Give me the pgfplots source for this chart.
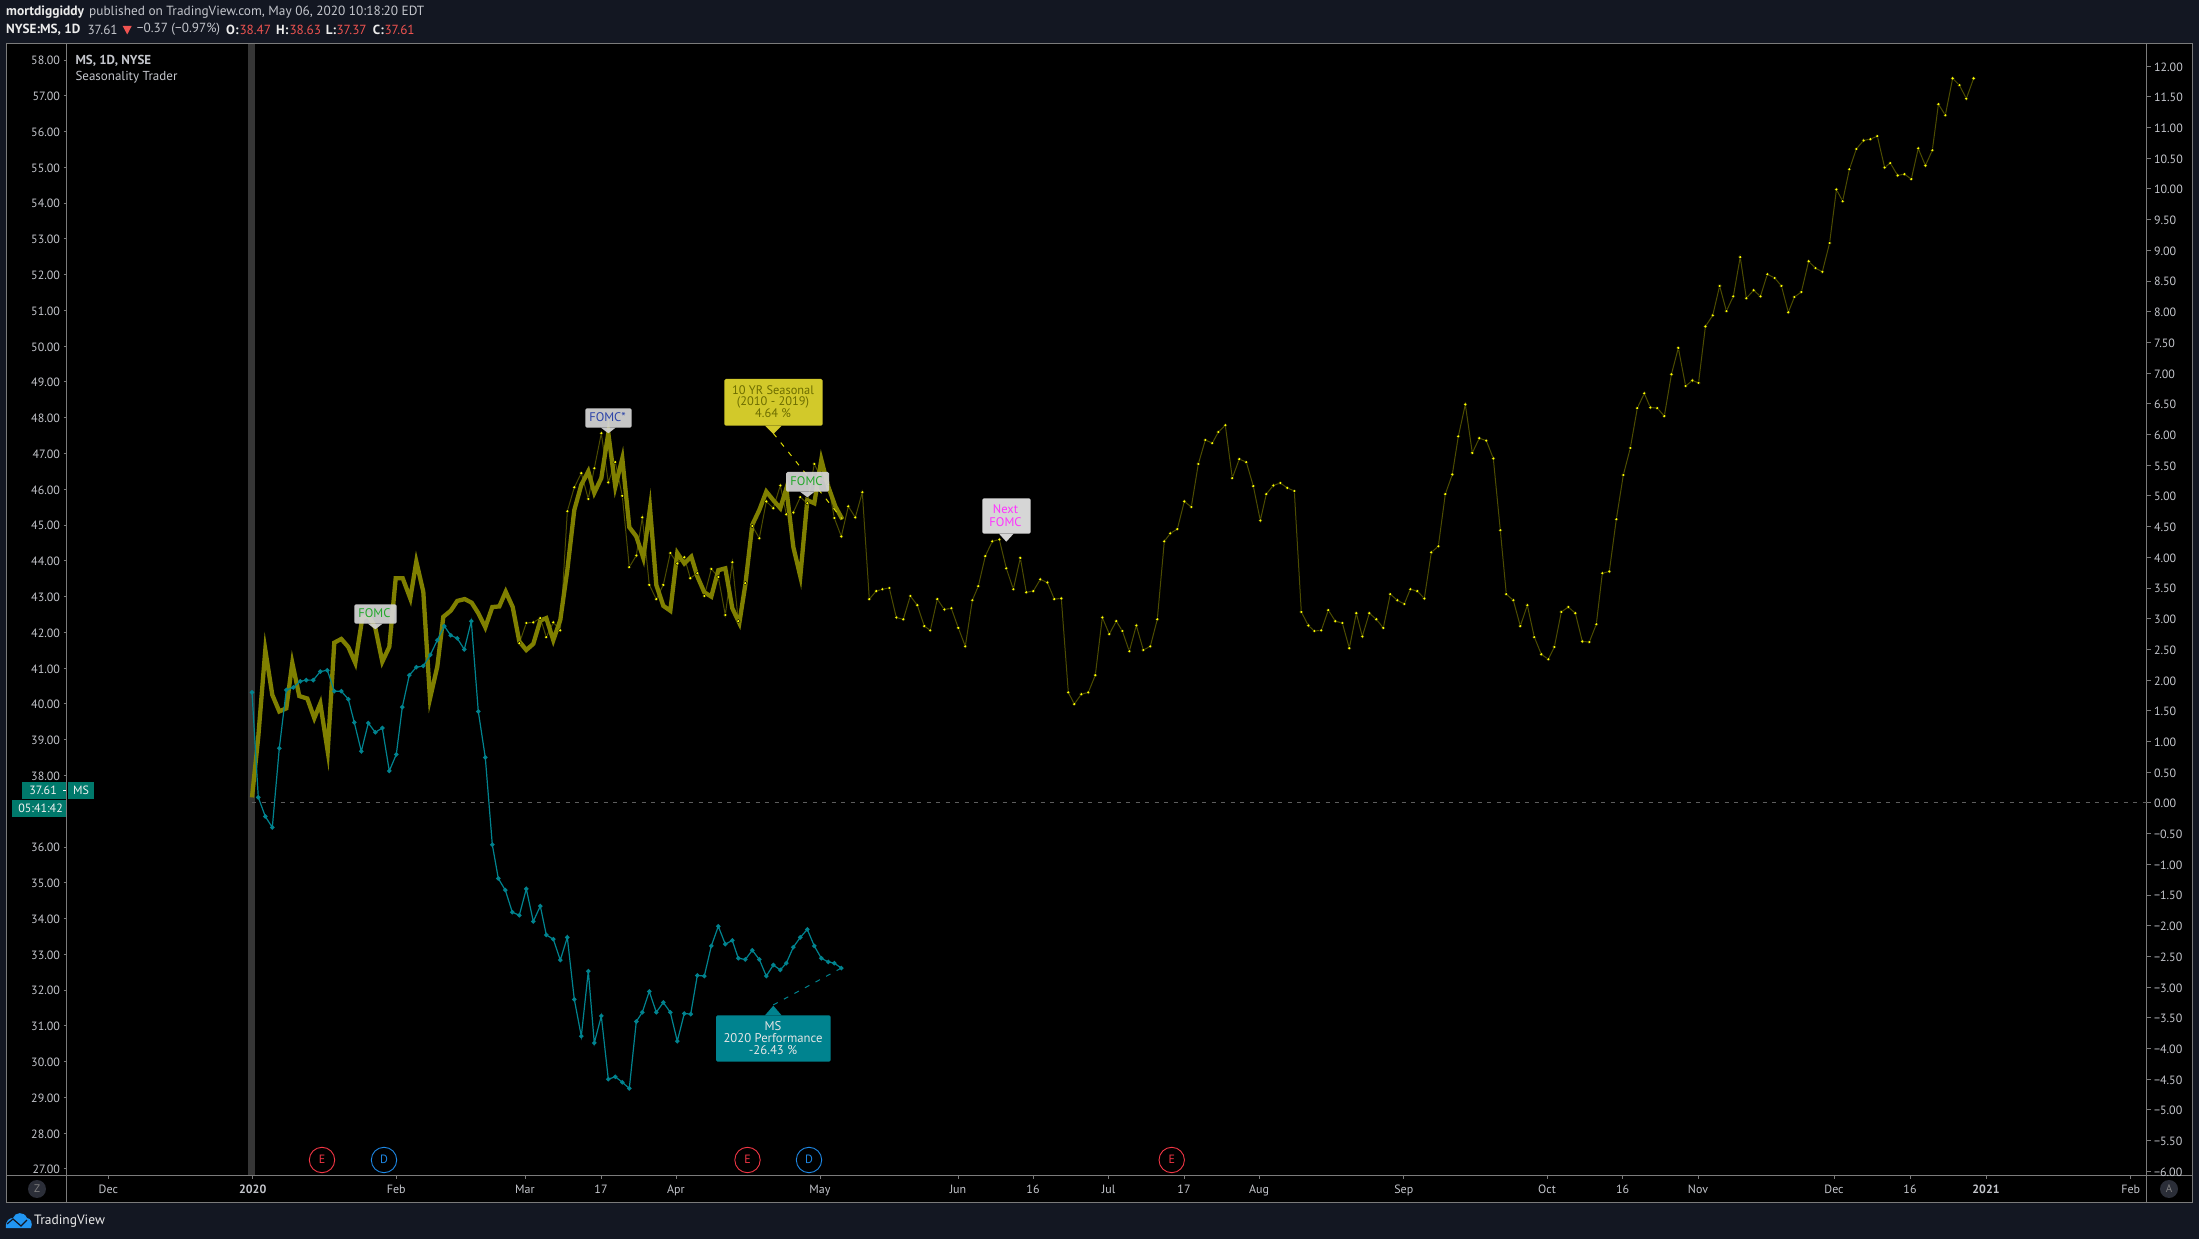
\documentclass[border=0pt]{standalone}
\usepackage{fontspec}
\setmainfont{PT Sans}
\usepackage{pgfplots}
\pgfplotsset{compat=1.18}
\definecolor{outer}{HTML}{131722}
\definecolor{framec}{HTML}{7B7B7B}
\definecolor{scaletxt}{HTML}{C4C6CC}
\definecolor{band}{HTML}{363636}
\definecolor{seas}{HTML}{808000}
\definecolor{seasthin}{HTML}{4C4C00}
\definecolor{dotY}{HTML}{FFFF00}
\definecolor{tealc}{HTML}{00838F}
\definecolor{badge}{HTML}{00796B}
\definecolor{redc}{HTML}{EF5350}
\definecolor{labelbg}{HTML}{D6D6D6}
\definecolor{logoc}{HTML}{2196F3}
\definecolor{zeroc}{HTML}{5D5D5D}
\definecolor{nextc}{HTML}{FF33FF}
\definecolor{greenc}{HTML}{22A82A}
\definecolor{bluec}{HTML}{2A42A8}
\pgfplotsset{common/.style={
  at={(67pt,64pt)},anchor=south west,scale only axis,width=2080pt,height=1131pt,
  xmin=67,xmax=2147,axis line style={draw=none},
  major tick length=3.5pt,tick align=outside,
  tick style={draw=framec,line width=.9pt},
  ticklabel style={font=\fontsize{12}{12}\selectfont,text=scaletxt},
  yticklabel style={yshift=-.7pt},
}}
\begin{document}
\begin{tikzpicture}
\fill[outer] (0pt,0pt) rectangle (2199pt,1239pt);
\begin{scope}[x=1pt,y=-1pt,shift={(0pt,1239pt)}]
\fill[black] (6.5,43.5) rectangle (2192.5,1202);
\fill[band] (248.3,44) rectangle (255,1175);
\draw[framec,line width=.9pt] (6.5,43.5) rectangle (2192.5,1202);
\draw[framec,line width=.9pt] (66.5,43.5)--(66.5,1202) (2146.7,43.5)--(2146.7,1202) (6.5,1175)--(2192.5,1175);
\end{scope}
% price scale, left
\begin{axis}[common,ymin=26.83,ymax=58.447,axis x line=none,axis y line*=left,
  ytick={27,28,29,30,31,32,33,34,35,36,38,39,40,41,42,43,44,45,46,47,48,49,50,51,52,53,54,55,56,57,58},
  yticklabels={27.00,28.00,29.00,30.00,31.00,32.00,33.00,34.00,35.00,36.00,38.00,39.00,40.00,41.00,42.00,43.00,44.00,45.00,46.00,47.00,48.00,49.00,50.00,51.00,52.00,53.00,54.00,55.00,56.00,57.00,58.00}]
\end{axis}
% percent scale, right, and all series
\begin{axis}[common,ymin=-6.06,ymax=12.36,axis y line*=right,axis x line*=bottom,
  ytick={-6,-5.5,-5,-4.5,-4,-3.5,-3,-2.5,-2,-1.5,-1,-0.5,0,0.5,1,1.5,2,2.5,3,3.5,4,4.5,5,5.5,6,6.5,7,7.5,8,8.5,9,9.5,10,10.5,11,11.5,12},
  yticklabels={−6.00,−5.50,−5.00,−4.50,−4.00,−3.50,−3.00,−2.50,−2.00,−1.50,−1.00,−0.50,0.00,0.50,1.00,1.50,2.00,2.50,3.00,3.50,4.00,4.50,5.00,5.50,6.00,6.50,7.00,7.50,8.00,8.50,9.00,9.50,10.00,10.50,11.00,11.50,12.00},
  xtick={108.3,252.7,396.3,525,601,676,820,958,1033,1108.6,1184,1259,1403.8,1547,1622.6,1698,1834,1910,1986,2130.7},
  xticklabels={Dec,\bfseries 2020,Feb,Mar,17,Apr,May,Jun,16,Jul,17,Aug,Sep,Oct,16,Nov,Dec,16,\bfseries 2021,Feb},
  xticklabel style={yshift=-3pt},
  every axis plot/.append style={line join=miter}]
\addplot[draw=zeroc,dash pattern=on 4pt off 5.5pt,line width=1pt,forget plot] coordinates {(252,0) (2147,0)};
% 10-year seasonal, daily
\addplot[seasthin,line width=1pt,forget plot] coordinates {
(519.3,2.60)(526.3,2.93)(533.3,2.94)(540.3,3.01)(546.3,2.70)(553.3,2.94)(560.3,2.81)(567.3,4.75)(574.3,5.14)(581.3,5.37)(588.3,4.95)(594.3,5.45)(601.3,6.02)(608.3,5.22)(615.3,5.55)(622.3,5.00)(629.3,3.84)(636.3,4.03)(642.3,4.65)(649.3,3.55)(656.3,3.32)(663.3,3.55)(670.3,4.07)(677.3,3.90)(684.3,4.00)(690.3,3.66)(697.3,3.74)(704.3,3.37)(711.3,3.81)(718.3,3.68)(725.3,3.06)(732.3,3.92)(738.3,2.96)(745.3,3.58)(752.3,4.51)(759.3,4.31)(766.3,4.91)(773.3,4.80)(780.3,5.17)(786.3,4.70)(793.3,4.73)(800.3,4.98)(807.3,4.88)(814.3,5.52)(821.3,5.29)(828.3,5.19)(834.3,4.64)(841.3,4.34)(848.3,4.83)(855.3,4.65)(862.3,5.06)(869.3,3.32)(876.3,3.45)(882.3,3.48)(889.3,3.50)(896.3,3.02)(903.3,2.99)(910.3,3.37)(917.3,3.22)(924.3,2.88)(930.3,2.81)(937.3,3.32)(944.3,3.15)(951.3,3.17)(958.3,2.85)(965.3,2.55)(972.3,3.30)(978.3,3.53)(985.3,4.02)(992.3,4.26)(999.3,4.29)(1006.3,3.82)(1013.3,3.48)(1020.3,3.99)(1026.3,3.43)(1033.3,3.45)(1040.3,3.64)(1047.3,3.59)(1054.3,3.32)(1061.3,3.33)(1068.3,1.80)(1074.3,1.61)(1081.3,1.77)(1088.3,1.80)(1095.3,2.08)(1102.3,3.02)(1109.3,2.75)(1116.3,2.96)(1122.3,2.80)(1129.3,2.47)(1136.3,2.89)(1143.3,2.49)(1150.3,2.55)(1157.3,2.99)(1164.3,4.26)(1170.3,4.39)(1177.3,4.46)(1184.3,4.91)(1191.3,4.82)(1198.3,5.52)(1205.3,5.91)(1212.3,5.86)(1218.3,6.04)(1225.3,6.15)(1232.3,5.29)(1239.3,5.60)(1246.3,5.55)(1253.3,5.16)(1260.3,4.60)(1266.3,5.03)(1273.3,5.17)(1280.3,5.21)(1287.3,5.13)(1294.3,5.08)(1301.3,3.11)(1308.3,2.89)(1314.3,2.80)(1321.3,2.81)(1328.3,3.14)(1335.3,2.96)(1342.3,2.93)(1349.3,2.52)(1356.3,3.09)(1362.3,2.71)(1369.3,3.09)(1376.3,2.99)(1383.3,2.85)(1390.3,3.40)(1397.3,3.30)(1404.3,3.24)(1410.3,3.48)(1417.3,3.45)(1424.3,3.33)(1431.3,4.08)(1438.3,4.18)(1445.3,5.03)(1452.3,5.35)(1458.3,5.97)(1465.3,6.49)(1472.3,5.70)(1479.3,5.94)(1486.3,5.90)(1493.3,5.61)(1500.3,4.44)(1506.3,3.40)(1513.3,3.30)(1520.3,2.88)(1527.3,3.22)(1534.3,2.70)(1541.3,2.42)(1548.3,2.34)(1554.3,2.54)(1561.3,3.11)(1568.3,3.19)(1575.3,3.09)(1582.3,2.63)(1589.3,2.62)(1596.3,2.91)(1602.3,3.74)(1609.3,3.77)(1616.3,4.62)(1623.3,5.34)(1630.3,5.78)(1637.3,6.43)(1644.3,6.67)(1650.3,6.44)(1657.3,6.43)(1664.3,6.30)(1671.4,6.98)(1678.3,7.41)(1685.6,6.79)(1692.4,6.88)(1698.5,6.84)(1705.4,7.76)(1712.7,7.94)(1719.6,8.42)(1726.4,8.01)(1733.3,8.25)(1740.2,8.89)(1746.3,8.22)(1753.6,8.35)(1760.4,8.25)(1767.3,8.61)(1774.6,8.55)(1781.4,8.42)(1788.3,7.99)(1794.4,8.24)(1801.3,8.32)(1808.6,8.82)(1815.4,8.71)(1822.3,8.65)(1829.6,9.12)(1836.4,9.99)(1842.6,9.80)(1849.4,10.32)(1856.3,10.65)(1863.6,10.79)(1870.4,10.81)(1877.3,10.86)(1884.6,10.35)(1890.3,10.42)(1897.6,10.22)(1904.4,10.24)(1911.3,10.16)(1918.2,10.66)(1925.4,10.38)(1932.3,10.63)(1938.4,11.38)(1945.3,11.20)(1952.6,11.80)(1959.4,11.69)(1966.3,11.47)(1973.6,11.80)};
% 2020 performance so far, thick seasonal
\addplot[seas,line width=4.3pt,forget plot] coordinates {
(252,0.09)(258.3,1.08)(265.3,2.49)(272.3,1.76)(279.3,1.49)(286.3,1.54)(292.3,2.28)(299.3,1.74)(307.3,1.70)(314.3,1.38)(320.3,1.62)(327.7,0.84)(334.3,2.61)(341.3,2.67)(348.3,2.54)(355.3,2.28)(362.3,3.01)(368.3,3.06)(375.3,2.85)(382.3,2.30)(389.3,2.54)(395.7,3.66)(402.7,3.66)(410.3,3.33)(416.3,3.93)(423.3,3.44)(430,1.70)(437.3,2.22)(443.3,3.03)(450.7,3.13)(457.3,3.29)(464.7,3.32)(471.7,3.26)(478.3,3.09)(485.3,2.86)(492.3,3.19)(499.3,3.20)(505.7,3.44)(512.7,3.19)(519.3,2.63)(526.3,2.49)(533.3,2.59)(540.3,2.97)(546.3,3.01)(553.3,2.65)(560.3,2.98)(567.3,3.79)(574.3,4.77)(581.3,5.18)(588.3,5.40)(594.3,5.05)(601.3,5.29)(608.3,6.02)(615.3,5.15)(622.3,5.61)(629.3,4.49)(636.3,4.34)(643.3,3.99)(650,4.80)(656.3,3.55)(663.3,3.21)(670.3,3.13)(677.3,4.07)(684.3,3.90)(691.3,4.01)(697.3,3.69)(704.3,3.43)(711.3,3.36)(718.3,3.79)(725.3,3.82)(732.3,3.17)(739.3,2.93)(745.3,3.55)(752.3,4.53)(759.3,4.77)(766.3,5.07)(773.3,4.93)(780.3,4.80)(786.3,5.12)(793.3,4.17)(800.3,3.69)(807.3,4.93)(814.3,4.88)(821.3,5.59)(828.3,5.15)(835.3,4.83)(842.3,4.62)};
% seasonal dots
\addplot[only marks,mark=*,mark size=1.8pt,mark options={fill=dotY,draw=none},forget plot] coordinates {
(519.3,2.60)(526.3,2.93)(533.3,2.94)(540.3,3.01)(546.3,2.70)(553.3,2.94)(560.3,2.81)(567.3,4.75)(574.3,5.14)(581.3,5.37)(588.3,4.95)(594.3,5.45)(601.3,6.02)(608.3,5.22)(615.3,5.55)(622.3,5.00)(629.3,3.84)(636.3,4.03)(642.3,4.65)(649.3,3.55)(656.3,3.32)(663.3,3.55)(670.3,4.07)(677.3,3.90)(684.3,4.00)(690.3,3.66)(697.3,3.74)(704.3,3.37)(711.3,3.81)(718.3,3.68)(725.3,3.06)(732.3,3.92)(738.3,2.96)(745.3,3.58)(752.3,4.51)(759.3,4.31)(766.3,4.91)(773.3,4.80)(780.3,5.17)(786.3,4.70)(793.3,4.73)(800.3,4.98)(807.3,4.88)(814.3,5.52)(828.3,5.19)(834.3,4.64)(841.3,4.34)(848.3,4.83)(855.3,4.65)(862.3,5.06)(869.3,3.32)(876.3,3.45)(882.3,3.48)(889.3,3.50)(896.3,3.02)(903.3,2.99)(910.3,3.37)(917.3,3.22)(924.3,2.88)(930.3,2.81)(937.3,3.32)(944.3,3.15)(951.3,3.17)(958.3,2.85)(965.3,2.55)(972.3,3.30)(978.3,3.53)(985.3,4.02)(992.3,4.26)(999.3,4.29)(1006.3,3.82)(1013.3,3.48)(1020.3,3.99)(1026.3,3.43)(1033.3,3.45)(1040.3,3.64)(1047.3,3.59)(1054.3,3.32)(1061.3,3.33)(1068.3,1.80)(1074.3,1.61)(1081.3,1.77)(1088.3,1.80)(1095.3,2.08)(1102.3,3.02)(1109.3,2.75)(1116.3,2.96)(1122.3,2.80)(1129.3,2.47)(1136.3,2.89)(1143.3,2.49)(1150.3,2.55)(1157.3,2.99)(1164.3,4.26)(1170.3,4.39)(1177.3,4.46)(1184.3,4.91)(1191.3,4.82)(1198.3,5.52)(1205.3,5.91)(1212.3,5.86)(1218.3,6.04)(1225.3,6.15)(1232.3,5.29)(1239.3,5.60)(1246.3,5.55)(1253.3,5.16)(1260.3,4.60)(1266.3,5.03)(1273.3,5.17)(1280.3,5.21)(1287.3,5.13)(1294.3,5.08)(1301.3,3.11)(1308.3,2.89)(1314.3,2.80)(1321.3,2.81)(1328.3,3.14)(1335.3,2.96)(1342.3,2.93)(1349.3,2.52)(1356.3,3.09)(1362.3,2.71)(1369.3,3.09)(1376.3,2.99)(1383.3,2.85)(1390.3,3.40)(1397.3,3.30)(1404.3,3.24)(1410.3,3.48)(1417.3,3.45)(1424.3,3.33)(1431.3,4.08)(1438.3,4.18)(1445.3,5.03)(1452.3,5.35)(1458.3,5.97)(1465.3,6.49)(1472.3,5.70)(1479.3,5.94)(1486.3,5.90)(1493.3,5.61)(1500.3,4.44)(1506.3,3.40)(1513.3,3.30)(1520.3,2.88)(1527.3,3.22)(1534.3,2.70)(1541.3,2.42)(1548.3,2.34)(1554.3,2.54)(1561.3,3.11)(1568.3,3.19)(1575.3,3.09)(1582.3,2.63)(1589.3,2.62)(1596.3,2.91)(1602.3,3.74)(1609.3,3.77)(1616.3,4.62)(1623.3,5.34)(1630.3,5.78)(1637.3,6.43)(1644.3,6.67)(1650.3,6.44)(1657.3,6.43)(1664.3,6.30)(1671.4,6.98)(1678.3,7.41)(1685.6,6.79)(1692.4,6.88)(1698.5,6.84)(1705.4,7.76)(1712.7,7.94)(1719.6,8.42)(1726.4,8.01)(1733.3,8.25)(1740.2,8.89)(1746.3,8.22)(1753.6,8.35)(1760.4,8.25)(1767.3,8.61)(1774.6,8.55)(1781.4,8.42)(1788.3,7.99)(1794.4,8.24)(1801.3,8.32)(1808.6,8.82)(1815.4,8.71)(1822.3,8.65)(1829.6,9.12)(1836.4,9.99)(1842.6,9.80)(1849.4,10.32)(1856.3,10.65)(1863.6,10.79)(1870.4,10.81)(1877.3,10.86)(1884.6,10.35)(1890.3,10.42)(1897.6,10.22)(1904.4,10.24)(1911.3,10.16)(1918.2,10.66)(1925.4,10.38)(1932.3,10.63)(1938.4,11.38)(1945.3,11.20)(1952.6,11.80)(1959.4,11.69)(1966.3,11.47)(1973.6,11.80)};
% MS 2020 performance
\addplot[tealc,line width=1.2pt,mark=*,mark size=1.6pt,mark options={fill=tealc,draw=none},forget plot] coordinates {
(252,1.80)(258.3,0.09)(265.3,-0.22)(272.3,-0.40)(279.3,0.89)(286.3,1.84)(293.3,1.88)(300.3,1.98)(306.3,2.00)(313.3,2.00)(320.3,2.14)(327.3,2.16)(334.3,1.82)(341.3,1.82)(348.3,1.69)(354.3,1.31)(361.3,0.84)(368.3,1.30)(375.3,1.15)(382.3,1.22)(389.3,0.52)(396.3,0.79)(402.3,1.56)(409.3,2.08)(416.3,2.21)(423.3,2.23)(430.3,2.41)(437.3,2.65)(444.3,2.88)(450.7,2.73)(457.3,2.68)(464.3,2.50)(471.3,2.96)(478.3,1.49)(485.3,0.74)(492.3,-0.68)(498.3,-1.23)(505.3,-1.42)(512.3,-1.78)(519.3,-1.83)(526.3,-1.40)(533.3,-1.93)(540.3,-1.68)(546.3,-2.15)(553.3,-2.22)(560.3,-2.56)(567.3,-2.19)(574.3,-3.20)(581.3,-3.80)(588.3,-2.74)(594.3,-3.91)(601.3,-3.47)(608.3,-4.50)(615.3,-4.46)(622.3,-4.55)(629.3,-4.65)(636.3,-3.56)(642.3,-3.41)(649.3,-3.07)(656.3,-3.41)(663.3,-3.25)(670.3,-3.41)(677.3,-3.88)(684.3,-3.43)(690.7,-3.44)(697.3,-2.81)(704.3,-2.82)(711.3,-2.33)(718.3,-2.01)(725.3,-2.30)(732.3,-2.24)(738.3,-2.53)(745.3,-2.55)(752.3,-2.40)(759.3,-2.55)(766.3,-2.82)(773.3,-2.64)(780.3,-2.72)(786.3,-2.61)(793.3,-2.35)(800.3,-2.19)(807.3,-2.06)(814.3,-2.33)(821.3,-2.53)(828.3,-2.59)(834.3,-2.61)(841.3,-2.69)};
% connectors of the two callouts
\addplot[dotY!85!black,dash pattern=on 5pt off 7pt,line width=1pt,forget plot] coordinates {(773.3,6.02)(842.3,4.62)};
\addplot[tealc,dash pattern=on 5pt off 7pt,line width=1pt,forget plot] coordinates {(773.3,-3.29)(841.3,-2.69)};
\end{axis}
\begin{scope}[x=1pt,y=-1pt,shift={(0pt,1239pt)}]
\newcommand{\tfont}[1]{\fontsize{#1}{#1}\selectfont}
% header
\node[anchor=west,inner sep=0,text=white!85!gray,font=\tfont{13.5}] at (6,12.5) {\bfseries mortdiggiddy};
\node[anchor=west,inner sep=0,text=scaletxt,font=\tfont{13.3}] at (89,12.5) {published on TradingView.com, May 06, 2020 10:18:20 EDT};
\node[anchor=west,inner sep=0,text=white!85!gray,font=\tfont{13.2}] at (6,29.7) {\bfseries NYSE:MS, 1D};
\node[anchor=west,inner sep=0,text=scaletxt,font=\tfont{13.2}] at (87.3,29.7) {37.61};
\fill[redc] (122.7,26) -- (131.7,26) -- (127.2,34.5) -- cycle;
\node[anchor=west,inner sep=0,text=scaletxt,font=\tfont{13.2}] at (136.7,29.7) {−0.37 (−0.97\%)};
\node[anchor=west,inner sep=0,text=white!85!gray,font=\tfont{13.2}] at (226,29.7) {\bfseries O:};
\node[anchor=west,inner sep=0,text=redc,font=\tfont{13.2}] at (239.3,29.7) {38.47};
\node[anchor=west,inner sep=0,text=white!85!gray,font=\tfont{13.2}] at (276,29.7) {\bfseries H:};
\node[anchor=west,inner sep=0,text=redc,font=\tfont{13.2}] at (289.3,29.7) {38.63};
\node[anchor=west,inner sep=0,text=white!85!gray,font=\tfont{13.2}] at (325.7,29.7) {\bfseries L:};
\node[anchor=west,inner sep=0,text=redc,font=\tfont{13.2}] at (336.3,29.7) {37.37};
\node[anchor=west,inner sep=0,text=white!85!gray,font=\tfont{13.2}] at (372.7,29.7) {\bfseries C:};
\node[anchor=west,inner sep=0,text=redc,font=\tfont{13.2}] at (384.3,29.7) {37.61};
% legend
\node[anchor=west,inner sep=0,text=scaletxt,font=\tfont{13}] at (75.3,60.7) {\bfseries MS, 1D, NYSE};
\node[anchor=west,inner sep=0,text=scaletxt,font=\tfont{13}] at (75.3,77.7) {Seasonality Trader};
% callouts
\fill[labelbg,rounded corners=1.5pt,fill opacity=.93] (585.3,408.3) rectangle (631.7,427.7);
\fill[labelbg,fill opacity=.93] (601,427.7) -- (608.3,433.3) -- (615.6,427.7) -- cycle;
\node[text=bluec,font=\tfont{12.5}] at (607.5,417.5) {FOMC*};
\fill[labelbg,rounded corners=1.5pt,fill opacity=.93] (354.3,604.3) rectangle (396.7,623.7);
\fill[labelbg,fill opacity=.93] (368,623.7) -- (375.3,629.3) -- (382.6,623.7) -- cycle;
\node[text=greenc,font=\tfont{12.5}] at (374.5,613.5) {FOMC};
\fill[labelbg,rounded corners=1.5pt,fill opacity=.93] (786,472) rectangle (829,491.7);
\fill[labelbg,fill opacity=.93] (800,491.7) -- (807.3,497.3) -- (814.6,491.7) -- cycle;
\node[text=greenc,font=\tfont{12.5}] at (806.5,481.5) {FOMC};
\fill[labelbg,rounded corners=1.5pt] (982.3,498.3) rectangle (1030.7,533.7);
\fill[labelbg] (999,533.7) -- (1006.3,541.7) -- (1013.6,533.7) -- cycle;
\node[text=nextc,font=\tfont{12.5},align=center] at (1005.5,515.5) {Next\\FOMC};
\fill[yellow!80!black,rounded corners=1.5pt] (724.3,379) rectangle (822.7,425.7);
\fill[yellow!80!black] (765,425.7) -- (773.3,434) -- (781.6,425.7) -- cycle;
\node[text=seas!85!black,font=\fontsize{12.4}{11.7}\selectfont,align=center] at (773,401.5) {10 YR Seasonal\\(2010 - 2019)\\4.64 \%};
\fill[tealc,rounded corners=1.5pt] (716,1015.3) rectangle (830.7,1061.7);
\fill[tealc] (765,1015.3) -- (773.3,1005.7) -- (781.6,1015.3) -- cycle;
\node[text=white!80!gray,font=\fontsize{12.7}{11.7}\selectfont,align=center] at (773,1038) {MS\\2020 Performance\\-26.43 \%};
% earnings and dividends
\foreach \x/\l/\c in {322/E/F23645,747.5/E/F23645,1171.7/E/F23645,384/D/1E88E5,809/D/1E88E5}{
  \definecolor{tmpc}{HTML}{\c}
  \draw[tmpc,line width=.9pt,fill=black] (\x,1160) circle (12.7);
  \node[text=tmpc,font=\tfont{12}] at (\x,1159.5) {\l};
}
% buttons
\fill[white!10!outer] (37,1189) circle (9);
\node[text=gray,font=\tfont{11}] at (37,1189) {Z};
\fill[white!10!outer] (2169,1189) circle (9);
\node[text=gray,font=\tfont{11}] at (2169,1189) {A};
% last price
\fill[badge] (22,782) rectangle (66.3,798.7);
\fill[badge] (68,782) rectangle (94,798.7);
\fill[badge] (12,800) rectangle (66.3,816.7);
\draw[white,line width=.8pt] (63,790.5)--(66.3,790.5);
\node[anchor=east,inner sep=0,text=white!90!gray,font=\tfont{12}] at (57,790.5) {37.61};
\node[text=white!90!gray,font=\tfont{12}] at (81,790.5) {MS};
\node[anchor=east,inner sep=0,text=white!90!gray,font=\tfont{12}] at (63,808.5) {05:41:42};
% logo
\fill[logoc] (6,1228) .. controls (5,1220) and (10,1218) .. (13,1218) .. controls (15,1212) and (24,1211) .. (27,1218) .. controls (31,1218) and (33,1224) .. (31,1228) -- cycle;
\draw[outer,line width=1.2pt] (7,1224) -- (13,1219) -- (21,1226) -- (27,1220);
\node[anchor=west,inner sep=0,text=white!85!gray,font=\tfont{13.5}] at (34,1221) {TradingView};
\end{scope}
\end{tikzpicture}
\end{document}
